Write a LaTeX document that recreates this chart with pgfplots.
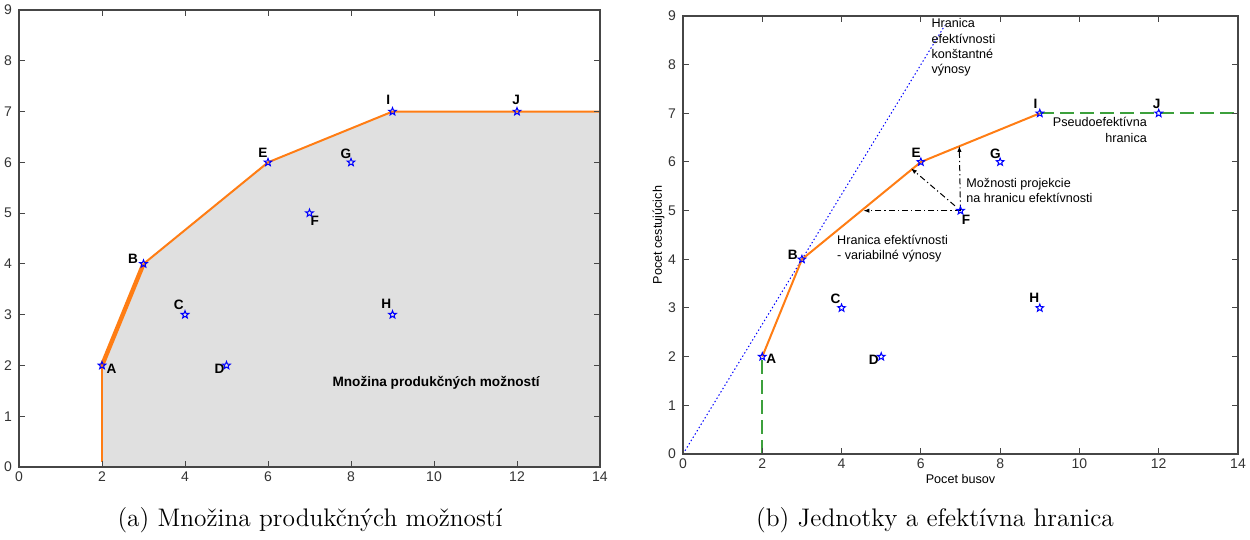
\documentclass[border=0pt]{standalone}
\usepackage{fontspec}
\usepackage{pgfplots}
\pgfplotsset{compat=1.18}
\usetikzlibrary{arrows.meta}
\newfontfamily\arial{Liberation Sans}
\definecolor{frontier}{RGB}{255,125,20}
\definecolor{setgray}{RGB}{224,224,224}
\definecolor{pseudo}{RGB}{60,160,60}
\definecolor{axgray}{RGB}{70,70,70}

% MATLAB-like pentagram marker
\pgfdeclareplotmark{pentagram}{%
  \pgfpathmoveto{\pgfpointpolar{90}{\pgfplotmarksize}}%
  \pgfpathlineto{\pgfpointpolar{126}{0.42\pgfplotmarksize}}%
  \pgfpathlineto{\pgfpointpolar{162}{\pgfplotmarksize}}%
  \pgfpathlineto{\pgfpointpolar{198}{0.42\pgfplotmarksize}}%
  \pgfpathlineto{\pgfpointpolar{234}{\pgfplotmarksize}}%
  \pgfpathlineto{\pgfpointpolar{270}{0.42\pgfplotmarksize}}%
  \pgfpathlineto{\pgfpointpolar{306}{\pgfplotmarksize}}%
  \pgfpathlineto{\pgfpointpolar{342}{0.42\pgfplotmarksize}}%
  \pgfpathlineto{\pgfpointpolar{18}{\pgfplotmarksize}}%
  \pgfpathlineto{\pgfpointpolar{54}{0.42\pgfplotmarksize}}%
  \pgfpathclose\pgfusepathqstroke}

\pgfplotstableread{
x y
2 2
3 4
4 3
5 2
6 6
7 5
8 6
9 3
9 7
12 7
}\units

\newcommand\lab{\arial\bfseries\fontsize{6.8}{7}\selectfont}
\newcommand\txt{\arial\fontsize{6.3}{7.6}\selectfont}

\pgfplotsset{matlab/.style={
  scale only axis, xmin=0, xmax=14, ymin=0, ymax=9,
  xtick={0,2,...,14}, ytick={0,1,...,9},
  tick align=inside, major tick length=3pt, axis on top,
  axis line style={axgray, line width=0.6pt},
  every tick/.style={axgray, line width=0.5pt},
  /pgf/number format/assume math mode=true,
  tick label style={font=\arial\fontsize{7}{8}\selectfont, text=black!80},
  xticklabel style={yshift=1pt},
  label style={font=\arial\fontsize{6.3}{7}\selectfont},
}}

\begin{document}
\begin{tikzpicture}
\useasboundingbox (0,0) rectangle (625pt,270pt);

% (a)
\begin{axis}[matlab, at={(9.5pt,36.5pt)}, anchor=south west,
  width=290.5pt, height=228.5pt]
  \addplot[fill=setgray, draw=none] coordinates
    {(2,0) (2,2) (3,4) (6,6) (9,7) (14,7)} \closedcycle;
  \addplot[frontier, line width=1pt] coordinates {(2,0.1) (2,2)};
  \addplot[frontier, line width=2.2pt] coordinates {(2,2) (3,4)};
  \addplot[frontier, line width=1pt] coordinates {(3,4) (6,6) (9,7) (14,7)};
  \addplot[only marks, mark=pentagram, mark size=2pt, blue, line width=0.5pt] table {\units};
  \node[font=\lab] at (axis cs:2.23,1.93) {A};
  \node[font=\lab] at (axis cs:2.75,4.1) {B};
  \node[font=\lab] at (axis cs:3.85,3.2) {C};
  \node[font=\lab] at (axis cs:4.83,1.93) {D};
  \node[font=\lab] at (axis cs:5.88,6.19) {E};
  \node[font=\lab] at (axis cs:7.13,4.84) {F};
  \node[font=\lab] at (axis cs:7.88,6.17) {G};
  \node[font=\lab] at (axis cs:8.85,3.22) {H};
  \node[font=\lab] at (axis cs:8.9,7.23) {I};
  \node[font=\lab] at (axis cs:11.98,7.23) {J};
  \node[font=\lab] at (axis cs:10.05,1.65) {Množina produkčných možností};
\end{axis}

% (b)
\begin{axis}[matlab, at={(341.5pt,43pt)}, anchor=south west,
  width=277.5pt, height=219pt,
  xlabel={Pocet busov}, ylabel={Pocet cestujúcich},
  xlabel style={yshift=4pt}, ylabel style={yshift=-5pt}]
  \addplot[blue, line width=0.5pt, dash pattern=on 0.7pt off 1.2pt] coordinates {(0,0) (6.6,8.8)};
  \addplot[pseudo, line width=0.8pt, dash pattern=on 7pt off 3pt] coordinates {(2,0) (2,2)};
  \addplot[pseudo, line width=0.8pt, dash pattern=on 7pt off 3pt] coordinates {(9,7.01) (14,7.01)};
  \addplot[frontier, line width=1pt] coordinates {(2,2) (3,4) (6,6) (9,7)};
  \addplot[black, line width=0.5pt, dash pattern=on 3pt off 1.5pt on 0.6pt off 1.5pt,
    -{Latex[length=3pt,width=2.2pt]}] coordinates {(7,5) (4.55,5)};
  \addplot[black, line width=0.5pt, dash pattern=on 3pt off 1.5pt on 0.6pt off 1.5pt,
    -{Latex[length=3pt,width=2.2pt]}] coordinates {(7,5) (6.97,6.33)};
  \addplot[black, line width=0.5pt, dash pattern=on 3pt off 1.5pt on 0.6pt off 1.5pt,
    -{Latex[length=3pt,width=2.2pt]}] coordinates {(6.86,5.1) (5.75,5.87)};
  \addplot[only marks, mark=pentagram, mark size=2pt, blue, line width=0.5pt] table {\units};
  \node[font=\lab] at (axis cs:2.23,1.95) {A};
  \node[font=\lab] at (axis cs:2.77,4.09) {B};
  \node[font=\lab] at (axis cs:3.85,3.18) {C};
  \node[font=\lab] at (axis cs:4.81,1.93) {D};
  \node[font=\lab] at (axis cs:5.88,6.19) {E};
  \node[font=\lab] at (axis cs:7.14,4.82) {F};
  \node[font=\lab] at (axis cs:7.88,6.16) {G};
  \node[font=\lab] at (axis cs:8.86,3.21) {H};
  \node[font=\lab] at (axis cs:8.89,7.19) {I};
  \node[font=\lab] at (axis cs:11.95,7.19) {J};
  \node[font=\txt, anchor=north west, align=left, inner sep=0pt] at (axis cs:6.26,8.95)
    {Hranica\\efektívnosti\\konštantné\\výnosy};
  \node[font=\txt, anchor=north east, align=right, inner sep=0pt] at (axis cs:11.71,6.92)
    {Pseudoefektívna\\hranica};
  \node[font=\txt, anchor=north west, align=left, inner sep=0pt] at (axis cs:7.14,5.67)
    {Možnosti projekcie\\na hranicu efektívnosti};
  \node[font=\txt, anchor=north west, align=left, inner sep=0pt] at (axis cs:3.88,4.51)
    {Hranica efektívnosti\\- variabilné výnosy};
\end{axis}

\node[font=\fontsize{12.7}{14}\selectfont] at (155pt,10pt) {(a) Množina produkčných možností};
\node[font=\fontsize{12.7}{14}\selectfont] at (467.5pt,10pt) {(b) Jednotky a efektívna hranica};
\end{tikzpicture}
\end{document}
